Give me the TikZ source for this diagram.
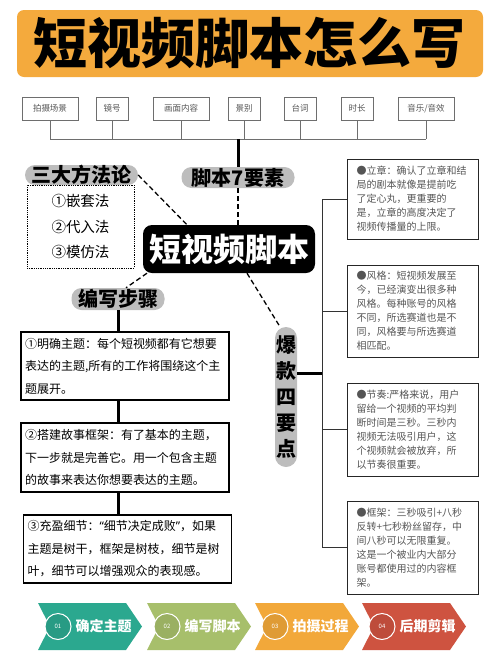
\documentclass[tikz,border=0pt]{standalone}
\usepackage{fontspec}
\setmainfont{Noto Sans CJK SC}
\newfontfamily\quotefont{Noto Sans}
\definecolor{bannerorange}{RGB}{244, 170, 61}
\definecolor{pillgray}{RGB}{189, 189, 189}
\definecolor{textgray}{RGB}{85, 85, 85}
\definecolor{lightline}{RGB}{110, 110, 110}
\definecolor{stepteal}{RGB}{43, 168, 143}
\definecolor{stepolive}{RGB}{167, 191, 107}
\definecolor{steporange}{RGB}{242, 168, 58}
\definecolor{stepred}{RGB}{206, 83, 64}
\usetikzlibrary{calc, positioning}

\begin{document}
\begin{tikzpicture}[
  x=1pt, y=-1pt,
  pill/.style={fill=pillgray, rounded corners=10pt, inner sep=0pt, font=\fontsize{20}{20}\selectfont\bfseries},
  topbox/.style={draw=lightline, line width=0.8pt, minimum height=23pt, inner sep=0pt, text=textgray, font=\fontsize{8.5}{8.5}\selectfont},
  stepbox/.style={draw, line width=1.3pt, text width=200pt, inner xsep=4pt, minimum width=208pt, minimum height=68pt, align=left, font=\fontsize{12}{22.5}\selectfont},
  notebox/.style={draw=black!85, line width=1pt, text width=112pt, inner xsep=9.5pt, minimum width=131pt, align=left, text=textgray, font=\fontsize{10}{14}\selectfont},
  thinline/.style={draw=lightline, line width=0.8pt},
  thickline/.style={line width=3pt},
  dashline/.style={line width=1.3pt, dash pattern=on 5pt off 3pt}
]
  \useasboundingbox (0,0) rectangle (500,654);

  % title
  \node[fill=bannerorange, rounded corners=7pt, minimum width=466pt, minimum height=67pt, inner sep=0pt,
        font=\fontsize{54}{54}\selectfont\bfseries] (title) at (250,43.5) {短视频脚本怎么写};

  % seven elements row
  \node[topbox, minimum width=56pt] (tb1) at (50,108.5) {拍摄场景};
  \node[topbox, minimum width=32pt] (tb2) at (112,108.5) {镜号};
  \node[topbox, minimum width=56pt] (tb3) at (181,108.5) {画面内容};
  \node[topbox, minimum width=32pt] (tb4) at (244,108.5) {景别};
  \node[topbox, minimum width=32pt] (tb5) at (300,108.5) {台词};
  \node[topbox, minimum width=32pt] (tb6) at (357,108.5) {时长};
  \node[topbox, minimum width=56pt] (tb7) at (426,108.5) {音乐/音效};
  \coordinate (hub) at (238,139);
  \foreach \i in {1,...,7}
    \draw[thinline] (tb\i.south) -- (tb\i.south |- hub);
  \draw[thinline] (tb1.south |- hub) -- (tb7.south |- hub);

  % labels round the centre
  \node[pill, minimum width=113pt, minimum height=21pt] (k7) at (238,177.5) {脚本7要素};
  \draw[thickline] (hub) -- (k7.north);
  \node[pill, minimum width=113pt, minimum height=20pt] (m3) at (81.5,175) {三大方法论};
  \node[draw, densely dotted, line width=0.8pt, minimum width=107pt, minimum height=83pt, align=left,
        font=\fontsize{14.5}{25.5}\selectfont] (methods) at (80.5,226.5) {①嵌套法\\②代入法\\③模仿法};
  \node[fill=black, rounded corners=9pt, minimum width=172pt, minimum height=48pt, inner sep=0pt, text=white,
        font=\fontsize{32}{32}\selectfont\bfseries] (ct) at (229,249) {短视频脚本};
  \node[pill, minimum width=93pt, minimum height=22pt] (bz) at (118,299) {编写步骤};
  \node[pill, minimum width=22pt, minimum height=140pt, rounded corners=11pt, align=center,
        font=\fontsize{20}{26}\selectfont\bfseries] (k4) at (286,397) {爆\\款\\四\\要\\点};

  \draw[dashline] (k7.south) -- (k7.south |- ct.north);
  \draw[dashline] (m3.east) -- ([xshift=-42pt]ct.north);
  \draw[dashline] ([xshift=-82pt]ct.south) -- ([xshift=8pt]bz.north);
  \draw[dashline] ([xshift=18pt]ct.south) -- ([xshift=-6pt]k4.north);

  % writing steps
  \node[stepbox] (s1) at (125,366) {①明确主题：每个短视频都有它想要\\表达的主题,所有的工作将围绕这个主\\题展开。};
  \node[stepbox, minimum height=69pt] (s2) at (125,457.5) {②搭建故事框架：有了基本的主题，\\下一步就是完善它。用一个包含主题\\的故事来表达你想要表达的主题。};
  \node[stepbox] (s3) at (127.5,549) {③充盈细节：{\quotefont “}细节决定成败{\quotefont ”}，如果\\主题是树干，框架是树枝，细节是树\\叶，细节可以增强观众的表现感。};
  \draw[thickline] (bz.south) -- (bz.south |- s1.north);
  \draw[thickline] (s1.south -| bz.south) -- (s2.north -| bz.south);
  \draw[thickline] (s2.south -| bz.south) -- (s3.north -| bz.south);

  % four key points
  \node[notebox, minimum height=80pt] (r1) at (412.5,199) {●立章：确认了立章和结\\局的剧本就像是提前吃\\了定心丸，更重要的\\是，立章的高度决定了\\视频传播量的上限。};
  \node[notebox, minimum height=92pt] (r2) at (412.5,311) {●风格：短视频发展至\\今，已经演变出很多种\\风格。每种账号的风格\\不同，所选赛道也是不\\同，风格要与所选赛道\\相匹配。};
  \node[notebox, minimum height=93pt] (r3) at (412.5,429.5) {●节奏:严格来说，用户\\留给一个视频的平均判\\断时间是三秒。三秒内\\视频无法吸引用户，这\\个视频就会被放弃，所\\以节奏很重要。};
  \node[notebox, minimum height=93pt] (r4) at (412.5,547.5) {●框架：三秒吸引+八秒\\反转+七秒粉丝留存，中\\间八秒可以无限重复。\\这是一个被业内大部分\\账号都使用过的内容框\\架。};
  \coordinate (bus) at (322,373);
  \draw[thinline, draw=black!80, line width=1pt] (r1.west) -- (r1.west -| bus) -- (r4.west -| bus) -- (r4.west);
  \draw[thinline, draw=black!80, line width=1pt] (r2.west) -- (r2.west -| bus);
  \draw[thinline, draw=black!80, line width=1pt] (r3.west) -- (r3.west -| bus);
  \draw[thickline] (k4.east |- bus) -- (bus);

  % process chevrons
  \foreach \x/\c/\n/\t in {38/stepteal/01/确定主题, 147/stepolive/02/编写脚本, 255/steporange/03/拍摄过程, 362/stepred/04/后期剪辑} {
    \fill[\c] (\x,603) -- (\x+88,603) -- (\x+104,626.5) -- (\x+88,650) -- (\x,650) -- (\x+12,626.5) -- cycle;
    \node[circle, draw=white, line width=1pt, fill=\c!92!black, minimum size=26pt, inner sep=0pt, text=white,
          font=\fontsize{6}{6}\selectfont] (num\n) at (\x+20,626.5) {\n};
    \node[right=4pt of num\n, inner sep=0pt, text=white, font=\fontsize{14}{14}\selectfont\bfseries] (lbl\n) {\t};
  }
\end{tikzpicture}
\end{document}
